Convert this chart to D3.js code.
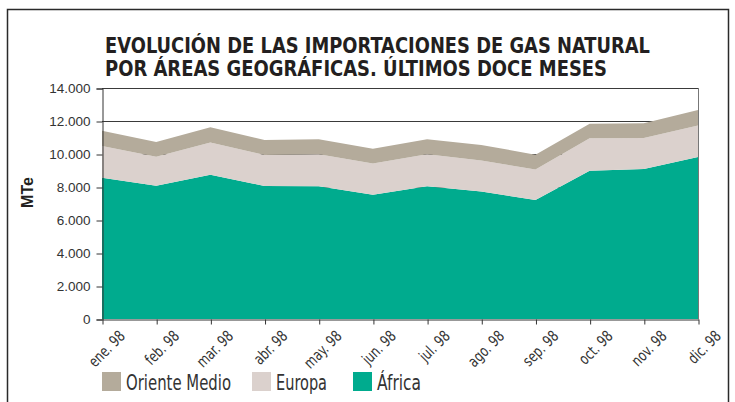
<!DOCTYPE html>
<html><head><meta charset="utf-8">
<script src="https://cdn.jsdelivr.net/npm/d3@7"></script>
<style>
html,body{margin:0;padding:0;background:#fff;}
svg{display:block;}
</style></head>
<body>
<svg id="chart" width="735" height="402"></svg>
<script>
const months = ["ene. 98","feb. 98","mar. 98","abr. 98","may. 98","jun. 98","jul. 98","ago. 98","sep. 98","oct. 98","nov. 98","dic. 98"];
const africa = [8560, 8080, 8750, 8060, 8050, 7530, 8040, 7720, 7210, 8990, 9090, 9820];
const europa = [1920, 1760, 1940, 1880, 1930, 1900, 1940, 1880, 1850, 1960, 1880, 1900];
const orienteMedio = [930, 890, 930, 910, 910, 890, 910, 950, 900, 890, 890, 950];
const yTicks = [0, 2000, 4000, 6000, 8000, 10000, 12000, 14000];
const seriesNames = ["África", "Europa", "Oriente Medio"];
const legendOrder = ["Oriente Medio", "Europa", "África"];
const colors = {"África": "#00ab8e", "Europa": "#dbd1cd", "Oriente Medio": "#b4ab9b"};
const titleLines = ["EVOLUCIÓN DE LAS IMPORTACIONES DE GAS NATURAL", "POR ÁREAS GEOGRÁFICAS. ÚLTIMOS DOCE MESES"];

const rows = months.map((m, i) => ({month: m, "África": africa[i], "Europa": europa[i], "Oriente Medio": orienteMedio[i]}));

const svg = d3.select("#chart");
const L = 102, R = 698, T = 88, B = 319;
const condensed = "'Liberation Sans Narrow','Arial Narrow','Nimbus Sans Narrow','DejaVu Sans Condensed',sans-serif";
const regular = "'Liberation Sans',Arial,Helvetica,sans-serif";

// outer border
svg.append("path").attr("d", `M7.5,410 V9.5 H728.5 V410`).attr("fill", "none").attr("stroke", "#2a2a2a").attr("stroke-width", 1.5);

// title
const tw = [545, 502];
svg.selectAll("text.title").data(titleLines).join("text")
  .attr("class", "title")
  .attr("x", 105).attr("y", (d, i) => i === 0 ? 53 : 75.5)
  .attr("font-family", condensed).attr("font-weight", "bold").attr("font-size", 21.5)
  .attr("fill", "#231f20")
  .attr("textLength", (d, i) => tw[i]).attr("lengthAdjust", "spacingAndGlyphs")
  .text(d => d);

const x = d3.scalePoint().domain(months).range([L, R]);
const y = d3.scaleLinear().domain([0, 14000]).range([B, T]);

// gridlines
svg.append("g").selectAll("line").data(yTicks.filter(t => t > 0 && t < 14000)).join("line")
  .attr("x1", L).attr("x2", R).attr("y1", d => y(d) + 0.5).attr("y2", d => y(d) + 0.5)
  .attr("stroke", "#3a3a3a").attr("stroke-width", 1);

// stacked areas
const stack = d3.stack().keys(seriesNames);
const layers = stack(rows);
const area = d3.area().x(d => x(d.data.month)).y0(d => y(d[0])).y1(d => y(d[1]));
svg.append("g").selectAll("path").data(layers).join("path")
  .attr("d", area).attr("fill", d => colors[d.key]);

// frame top & right
svg.append("line").attr("x1", L).attr("x2", R + 0.5).attr("y1", T + 0.5).attr("y2", T + 0.5).attr("stroke", "#3a3a3a");
svg.append("line").attr("x1", R + 0.5).attr("x2", R + 0.5).attr("y1", T).attr("y2", B).attr("stroke", "#777");

// y axis
const yAxis = d3.axisLeft(y).tickValues(yTicks).tickSize(6).tickPadding(6)
  .tickFormat(d => d3.format(",")(d).replace(/,/g, "."));
const gy = svg.append("g").attr("transform", `translate(${L + 0.5},0.5)`).call(yAxis);
gy.select(".domain").attr("stroke", "#333");
gy.selectAll(".tick line").attr("stroke", "#333");
gy.selectAll(".tick text").attr("font-family", regular).attr("font-size", 13.5).attr("fill", "#333");

// x axis
const xAxis = d3.axisBottom(x).tickSize(5).tickSizeOuter(0).tickFormat("");
const gx = svg.append("g").attr("transform", `translate(0.5,${B + 0.5})`).call(xAxis);
gx.select(".domain").attr("stroke", "#333");
gx.selectAll(".tick line").attr("stroke", "#333");

const xl = svg.append("g").selectAll("text").data(months).join("text")
  .attr("transform", d => `translate(${x(d) + 24},337) rotate(-45)`)
  .attr("text-anchor", "end")
  .attr("font-family", condensed).attr("font-size", 15.5).attr("fill", "#333")
  .text(d => d);
// condense labels to match the narrow typeface of the original
const ref = xl.filter((d, i) => i === 0).node().getComputedTextLength();
const k = 44 / ref;
xl.each(function() {
  const n = this.getComputedTextLength();
  d3.select(this).attr("textLength", n * k).attr("lengthAdjust", "spacingAndGlyphs");
});

// y title
svg.append("text").attr("transform", "translate(33,192.5) rotate(-90)")
  .attr("text-anchor", "middle").attr("font-family", regular).attr("font-weight", "bold")
  .attr("font-size", 16).attr("fill", "#231f20").text("MTe");

// legend
const legX = [102, 252, 353];
const legW = [105, 51, 44];
const lg = svg.append("g").selectAll("g").data(legendOrder).join("g")
  .attr("transform", (d, i) => `translate(${legX[i]},372)`);
lg.append("rect").attr("width", 19).attr("height", 19).attr("fill", d => colors[d]);
lg.append("text").attr("x", 24).attr("y", 18)
  .attr("font-family", condensed).attr("font-size", 21).attr("fill", "#333")
  .attr("textLength", (d, i) => legW[i]).attr("lengthAdjust", "spacingAndGlyphs")
  .text(d => d);
</script>
</body></html>
